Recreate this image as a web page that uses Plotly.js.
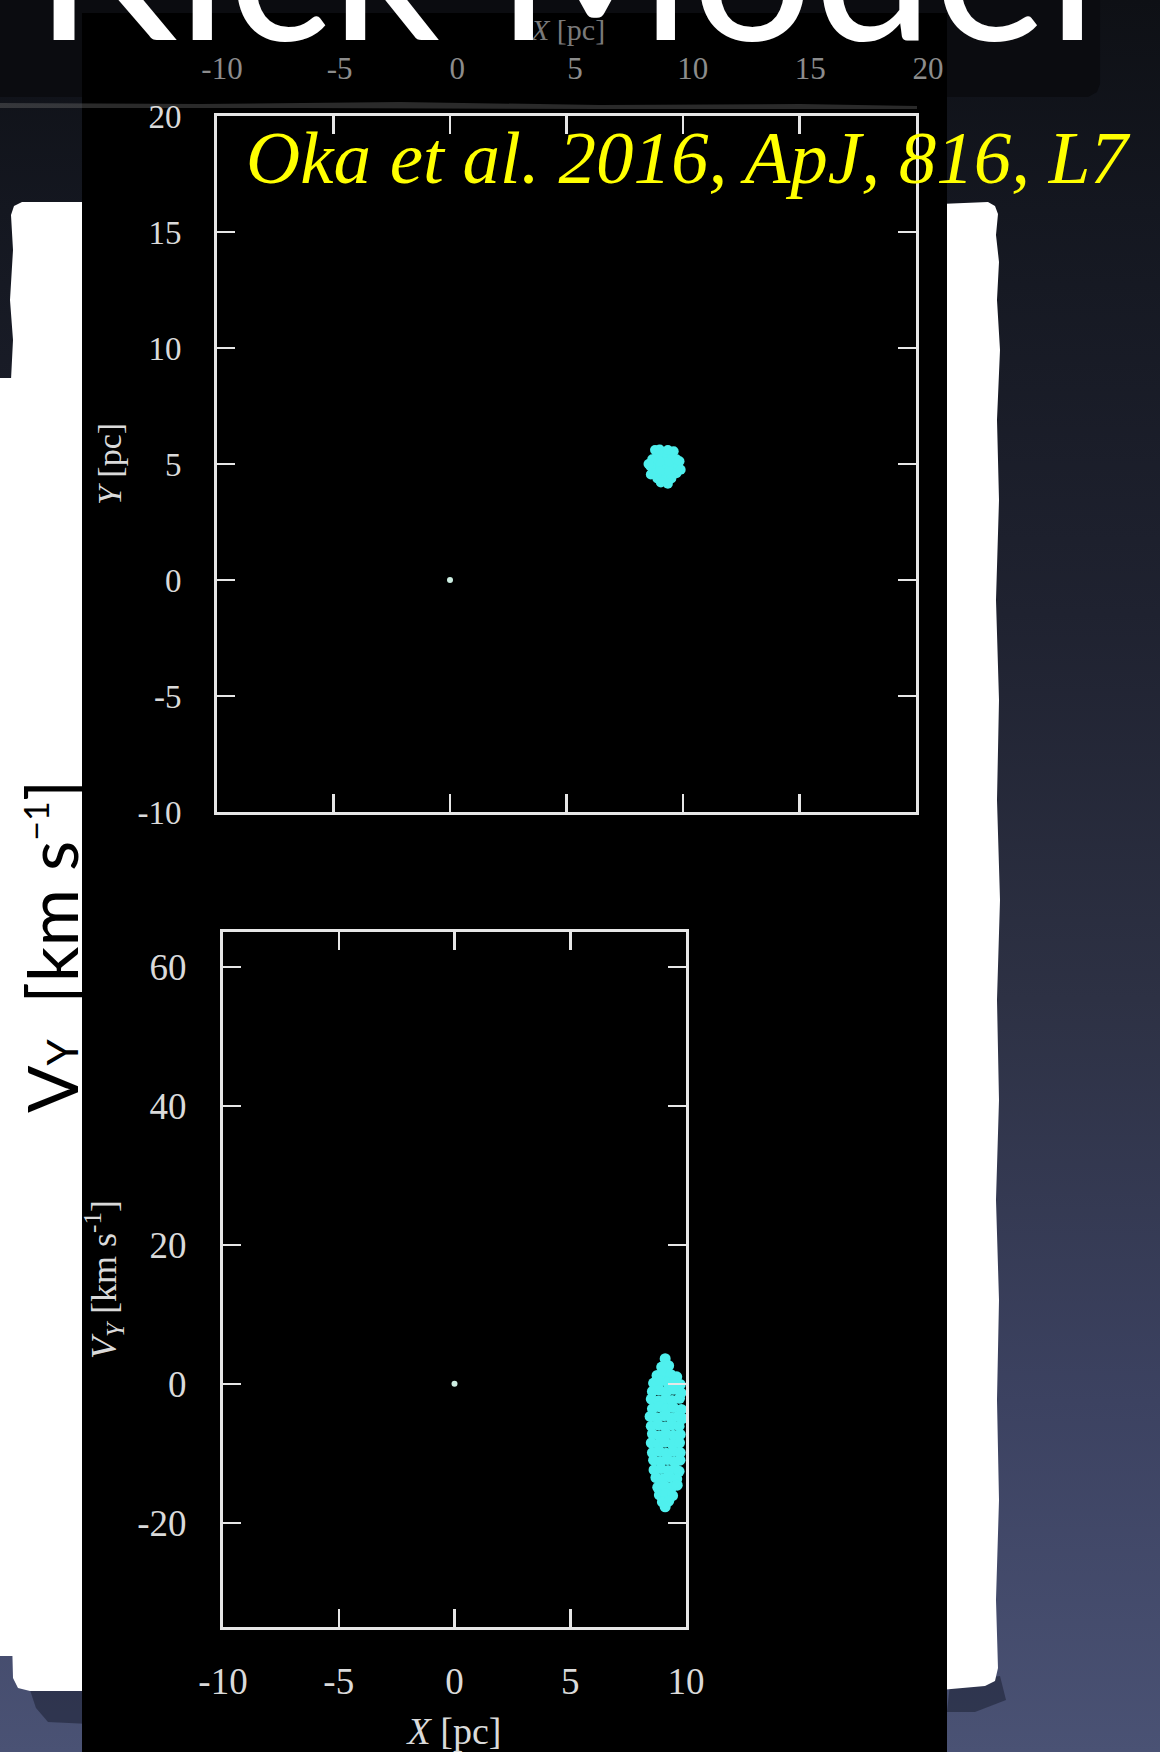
<!DOCTYPE html>
<html>
<head>
<meta charset="utf-8">
<script src="https://cdn.plot.ly/plotly-3.0.1.min.js"></script>
<style>
  html, body { margin: 0; padding: 0; overflow: hidden; }
  body {
    width: 1160px; height: 1752px;
    background: linear-gradient(180deg, #0e1015 0%, #141720 12%, #1f2230 35%, #2d3144 57%, #3c4261 80%, #4a5274 100%);
  }
  #chart { width: 1160px; height: 1752px; }
</style>
</head>
<body>
<div id="chart"></div>
<script>
// ---- data -------------------------------------------------------------
// Upper panel: position of the particles in the X–Y plane [pc]
const originX = [0];
const originY = [0];
const cloudX = [9.2, 9.5, 9.2, 8.9, 9.2, 9.41, 8.99, 8.99, 9.41,
                9.8, 9.72, 9.5, 9.2, 8.9, 8.68, 8.6, 8.68, 8.9, 9.2, 9.5, 9.72,
                9.85, 9.0, 8.52, 9.35, 9.9, 8.62, 9.6, 8.8, 9.05, 9.35];
const cloudY = [4.9, 4.9, 5.2, 4.9, 4.6, 5.11, 5.11, 4.69, 4.69,
                4.9, 5.2, 5.42, 5.5, 5.42, 5.2, 4.9, 4.6, 4.38, 4.3, 4.38, 4.6,
                5.12, 5.62, 5.0, 4.15, 4.75, 4.55, 5.55, 5.6, 4.2, 5.6];

// Lower panel: X position [pc] against velocity V_Y [km s^-1]
const originV = [0];
const kickX = [9.1,
  8.95, 9.25,
  8.75, 9.05, 9.35, 9.6,
  8.6, 8.9, 9.2, 9.5, 9.75,
  8.55, 8.85, 9.15, 9.45, 9.78,
  8.5, 8.8, 9.1, 9.4, 9.72,
  8.55, 8.85, 9.15, 9.45, 9.8,
  8.45, 8.75, 9.05, 9.35, 9.65, 9.85,
  8.5, 8.8, 9.1, 9.4, 9.7,
  8.55, 8.85, 9.15, 9.45, 9.75,
  8.5, 8.8, 9.1, 9.4, 9.72,
  8.55, 8.85, 9.15, 9.45, 9.75,
  8.6, 8.9, 9.2, 9.5, 9.74,
  8.62, 8.92, 9.22, 9.52, 9.7,
  8.7, 9.0, 9.3, 9.6,
  8.78, 9.08, 9.38, 9.62,
  8.85, 9.12, 9.42,
  8.98, 9.25,
  9.1];
const kickV = [3.6,
  2.4, 2.6,
  1.2, 1.5, 1.3, 1.0,
  0.1, 0.4, 0.2, 0.3, -0.1,
  -1.1, -0.9, -1.2, -0.8, -1.3,
  -2.2, -2.5, -2.2, -2.4, -2.1,
  -3.6, -3.3, -3.6, -3.4, -3.7,
  -4.7, -4.9, -4.6, -4.9, -4.7, -5.0,
  -6.1, -5.9, -6.2, -5.9, -6.1,
  -7.2, -7.5, -7.2, -7.4, -7.3,
  -8.5, -8.7, -8.4, -8.7, -8.5,
  -9.9, -9.7, -10.0, -9.7, -9.9,
  -11.0, -11.2, -10.9, -11.2, -11.0,
  -12.4, -12.2, -12.5, -12.2, -12.6,
  -13.5, -13.7, -13.4, -13.7,
  -14.9, -14.7, -14.9, -14.6,
  -16.0, -15.8, -16.1,
  -17.0, -16.9,
  -17.7];

// Tick values and their printed labels
const topXTicks = [-5, 0, 5, 10, 15];
const topYTicks = [-10, -5, 0, 5, 10, 15, 20];
const topYLabels = ['-10', '-5', '0', '5', '10', '15', '20'];
const botXTicks = [-10, -5, 0, 5, 10];
const botXLabels = ['-10', '-5', '0', '5', '10'];
const botYTicks = [-20, 0, 20, 40, 60];
const botYLabels = ['-20', '0', '20', '40', '60'];
const stripTicks = [-10, -5, 0, 5, 10, 15, 20];
const stripLabels = ['-10', '-5', '0', '5', '10', '15', '20'];

// ---- page geometry helpers (pixel -> paper fraction) ------------------
const W = 1160, H = 1752;
const px = v => v / W;
const py = v => 1 - v / H;
const path = pts => 'M' + pts.map(p => px(p[0]).toFixed(5) + ',' + py(p[1]).toFixed(5)).join('L') + 'Z';

const serif = 'Liberation Serif, Times New Roman, serif';
const sans = 'Lato, Open Sans, sans-serif';
const frame = '#e6e6e6';
const labelGrey = '#dadada';
const cyan = '#4ff0ee';

const traces = [
  { x: originX, y: originY, xaxis: 'x', yaxis: 'y', type: 'scatter', mode: 'markers',
    marker: { size: 6, color: '#cdeee2' }, hoverinfo: 'skip' },
  { x: cloudX, y: cloudY, xaxis: 'x', yaxis: 'y', type: 'scatter', mode: 'markers',
    marker: { size: 10, color: cyan }, hoverinfo: 'skip' },
  { x: originX, y: originV, xaxis: 'x2', yaxis: 'y2', type: 'scatter', mode: 'markers',
    marker: { size: 6, color: '#cdeee2' }, hoverinfo: 'skip' },
  { x: kickX, y: kickV, xaxis: 'x2', yaxis: 'y2', type: 'scatter', mode: 'markers',
    marker: { size: 11, color: cyan }, hoverinfo: 'skip' },
  { x: [], y: [], xaxis: 'x3', yaxis: 'y3', type: 'scatter', mode: 'markers', hoverinfo: 'skip' }
];

const frameAxis = {
  showline: true, mirror: 'ticks', linecolor: frame, linewidth: 3,
  ticks: 'inside', ticklen: 18, tickwidth: 2.5, tickcolor: frame,
  showgrid: false, zeroline: false, fixedrange: true
};

const layout = {
  width: W, height: H,
  margin: { l: 0, r: 0, t: 0, b: 0 },
  paper_bgcolor: 'rgba(0,0,0,0)',
  plot_bgcolor: 'rgba(0,0,0,0)',
  showlegend: false,
  xaxis: Object.assign({}, frameAxis, {
    domain: [px(217), px(916)], range: [-10, 20], anchor: 'y',
    tickvals: topXTicks, showticklabels: false
  }),
  yaxis: Object.assign({}, frameAxis, {
    domain: [py(812), py(116)], range: [-10, 20], anchor: 'x',
    tickvals: topYTicks, ticktext: topYLabels, ticklabelstandoff: 26,
    tickfont: { family: serif, size: 33, color: labelGrey },
    title: { text: '<i>Y</i> [pc]', standoff: 6, font: { family: serif, size: 34, color: labelGrey } }
  }),
  xaxis2: Object.assign({}, frameAxis, {
    domain: [px(223), px(686)], range: [-10, 10], anchor: 'y2',
    tickvals: botXTicks, ticktext: botXLabels, ticklabelstandoff: 20,
    tickfont: { family: serif, size: 37, color: labelGrey },
    title: { text: '<i>X</i> [pc]', standoff: 30, font: { family: serif, size: 38, color: labelGrey } }
  }),
  yaxis2: Object.assign({}, frameAxis, {
    domain: [py(1627), py(932)], range: [-35, 65], anchor: 'x2',
    tickvals: botYTicks, ticktext: botYLabels, ticklabelstandoff: 26,
    tickfont: { family: serif, size: 37, color: labelGrey },
    title: { text: '<i>V<sub>Y</sub></i> [km s<sup>-1</sup>]', standoff: 10,
             font: { family: serif, size: 36, color: labelGrey } }
  }),
  // faint strip of a second scale along the top of the panel
  xaxis3: {
    domain: [px(222), px(928)], range: [-10, 20], anchor: 'y3', side: 'top',
    showline: false, ticks: '', showgrid: false, zeroline: false, fixedrange: true,
    tickvals: stripTicks, ticktext: stripLabels, ticklabelstandoff: 2,
    tickfont: { family: serif, size: 31, color: '#8c8c8c' }
  },
  yaxis3: { domain: [py(90), py(88)], anchor: 'x3', visible: false, fixedrange: true },

  shapes: [
    // title bar
    { type: 'path', xref: 'paper', yref: 'paper', layer: 'below', line: { width: 0 }, fillcolor: '#0b0c10',
      path: path([[-10, -10], [1100, -10], [1100, 84], [1097, 92], [1088, 97], [-10, 97]]) },
    // paper shadows
    { type: 'path', xref: 'paper', yref: 'paper', layer: 'below', line: { width: 0 }, fillcolor: 'rgba(18,22,38,0.45)',
      path: path([[950, 1684], [1000, 1676], [1006, 1700], [975, 1712], [947, 1712]]) },
    { type: 'path', xref: 'paper', yref: 'paper', layer: 'below', line: { width: 0 }, fillcolor: 'rgba(22,26,44,0.5)',
      path: path([[30, 1690], [90, 1690], [90, 1724], [48, 1722], [36, 1708]]) },
    // right paper strip
    { type: 'path', xref: 'paper', yref: 'paper', layer: 'below', line: { width: 0 }, fillcolor: '#ffffff',
      path: path([[940, 204], [988, 202], [995, 206], [998, 214], [996, 235], [999, 262], [997, 300], [1000, 350],
                  [997, 420], [999, 500], [996, 600], [999, 700], [997, 800], [1000, 900], [997, 1000], [999, 1100],
                  [996, 1200], [999, 1300], [997, 1400], [999, 1500], [996, 1600], [998, 1668], [995, 1681],
                  [985, 1686], [940, 1690]]) },
    // left paper strip
    { type: 'path', xref: 'paper', yref: 'paper', layer: 'below', line: { width: 0 }, fillcolor: '#ffffff',
      path: path([[90, 202], [22, 202], [14, 206], [11, 215], [13, 250], [10, 300], [13, 340], [11, 380],
                  [12, 1500], [11, 1600], [13, 1678], [18, 1688], [30, 1691], [90, 1691]]) },
    { type: 'rect', xref: 'paper', yref: 'paper', layer: 'below', line: { width: 0 }, fillcolor: '#ffffff',
      x0: px(-5), x1: px(90), y0: py(1656), y1: py(378) },
    // black figure panel
    { type: 'rect', xref: 'paper', yref: 'paper', layer: 'below', line: { width: 0 }, fillcolor: '#000000',
      x0: px(82), x1: px(947), y0: py(1760), y1: py(13) },
    // torn edge streak
    { type: 'path', xref: 'paper', yref: 'paper', layer: 'below', line: { width: 0 }, fillcolor: 'rgba(120,120,120,0.35)',
      path: path([[0, 103], [200, 104], [400, 102], [600, 105], [800, 104], [917, 106], [917, 109],
                  [600, 109], [300, 108], [0, 108]]) }
  ],

  annotations: [
    { xref: 'paper', yref: 'paper', x: px(567), y: py(30), xanchor: 'center', yanchor: 'middle',
      text: '<i>X</i> [pc]', showarrow: false, font: { family: serif, size: 30, color: '#7a7a7a' } },
    { xref: 'paper', yref: 'paper', x: px(566), y: py(88), xanchor: 'center', yanchor: 'bottom',
      text: 'Kick Model', showarrow: false, font: { family: sans, size: 215, color: '#ffffff' } },
    { xref: 'paper', yref: 'paper', x: px(244), y: py(201), xanchor: 'left', yanchor: 'bottom',
      text: '<i>Oka et al. 2016, ApJ, 816, L7</i>', showarrow: false,
      font: { family: serif, size: 75, color: '#ffff00' } },
    { xref: 'paper', yref: 'paper', x: px(51), y: py(947), xanchor: 'center', yanchor: 'middle',
      textangle: -90,
      text: 'V<span style="font-size:42px">Y</span>  [km s<sup><span style="font-size:34px">−1</span></sup>]',
      showarrow: false, font: { family: sans, size: 70, color: '#000000' } }
  ]
};

Plotly.newPlot('chart', traces, layout, { staticPlot: true, displayModeBar: false });
</script>
</body>
</html>
